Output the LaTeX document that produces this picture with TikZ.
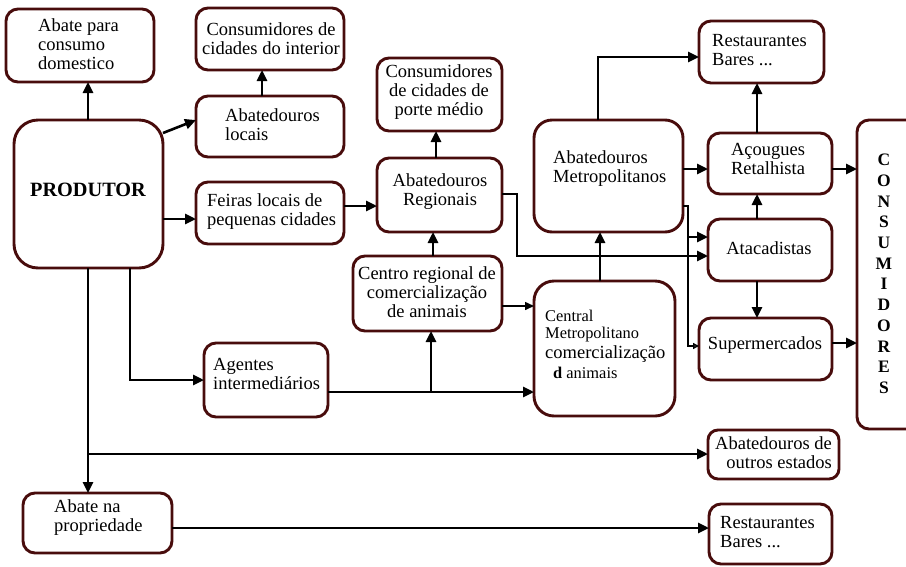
\documentclass[tikz,border=0pt]{standalone}
\usepackage{fontspec}
\setmainfont{Liberation Serif}
\usetikzlibrary{arrows.meta}
\definecolor{boxline}{RGB}{72,12,12}
% box from corner (x1,y1) to (x2,y2), given corner radius
\newcommand\flowbox[6]{%
  \node[box, rounded corners=#6, minimum width={(#4)-(#2)}, minimum height={(#5)-(#3)}]
    (#1) at ({((#2)+(#4))/2},{((#3)+(#5))/2}) {};}
\tikzset{
  box/.style={draw=boxline, line width=2.9pt, fill=white, inner sep=0pt, outer sep=0pt},
  arr/.style={line width=2.6pt, -{Triangle[length=11pt,width=10pt]}},
  thinline/.style={line width=1.5pt},
  dotline/.style={line width=2.8pt, dash pattern=on 0.6pt off 0.4pt},
  txt/.style={inner sep=0pt, font=\fontsize{18.5}{19}\selectfont},
  smalltxt/.style={inner sep=0pt, font=\fontsize{16.4}{19}\selectfont},
  vlet/.style={inner sep=0pt, font=\fontsize{17.5}{20}\selectfont\bfseries},
}
\begin{document}
\begin{tikzpicture}[x=1pt,y=-1pt]
\path[use as bounding box, fill=white] (0,0) rectangle (906,566);

% boxes
\flowbox{abcons}{6}{9}{154}{82}{12pt}
\flowbox{consint}{196}{8}{344}{70}{12pt}
\flowbox{ablocais}{196}{96}{344}{157}{12pt}
\flowbox{produtor}{14}{120}{163}{268}{24pt}
\flowbox{feiras}{196}{182}{344}{244}{12pt}
\flowbox{porte}{377}{58}{502}{131}{12pt}
\flowbox{regionais}{377}{158}{502}{232}{12pt}
\flowbox{centro}{353}{256}{502}{331}{12pt}
\flowbox{abmetro}{534}{120}{683}{232}{18pt}
\flowbox{central}{534}{281}{675}{416}{20pt}
\flowbox{restA}{699}{21}{824}{83}{12pt}
\flowbox{acougues}{708}{133}{832}{194}{12pt}
\flowbox{atac}{708}{219}{832}{281}{12pt}
\flowbox{super}{699}{318}{832}{380}{12pt}
\flowbox{consum}{857}{120}{940}{429}{12pt}
\flowbox{agentes}{204}{343}{328}{417}{12pt}
\flowbox{outros}{708}{430}{839}{479}{10pt}
\flowbox{abprop}{23}{493}{172}{553}{12pt}
\flowbox{restB}{709}{504}{832}{564}{12pt}

% connectors
\draw[arr] (88,0 |- produtor.north) -- (88,0 |- abcons.south);
\draw[arr] (produtor.east |- 0,133) -- (ablocais.west |- 0,120);
\draw[arr] (262,0 |- ablocais.north) -- (262,0 |- consint.south);
\draw[arr] (produtor.east |- 0,219) -- (feiras.west |- 0,219);
\draw[arr] (feiras.east |- 0,206) -- (regionais.west |- 0,206);
\draw[arr] (436,0 |- regionais.north) -- (436,0 |- porte.south);
\draw[arr] (433,0 |- centro.north) -- (433,0 |- regionais.south);
\draw[dotline] (regionais.east |- 0,194) -- (517,194) -- (517,256) -- (690,256);
\draw[arr] (690,256) -- (atac.west |- 0,256);
\draw[thinline, -{Triangle[length=9pt,width=8pt]}] (centro.east |- 0,306) -- (central.west |- 0,306);
\draw[arr] (600,0 |- central.north) -- (600,0 |- abmetro.south);
\draw[arr] (598,0 |- abmetro.north) |- (restA.west |- 0,57);
\draw[arr] (abmetro.east |- 0,169) -- (acougues.west |- 0,169);
\coordinate (split) at (688,237);
\draw[thinline, -{Triangle[open,length=6pt,width=6pt]}] (abmetro.east |- 0,206) -- (688,206) -- (688,346) -- (super.west |- 0,346);
\draw[arr] (split) -- (atac.west |- split);
\draw[arr] (757,0 |- atac.north) -- (757,0 |- acougues.south);
\draw[arr] (757,0 |- acougues.north) -- (757,0 |- restA.south);
\draw[arr] (757,0 |- atac.south) -- (757,0 |- super.north);
\draw[arr] (acougues.east |- 0,169) -- (consum.west |- 0,169);
\draw[arr] (super.east |- 0,343) -- (consum.west |- 0,343);
\draw[arr] (88,0 |- produtor.south) -- (88,0 |- abprop.north);
\draw[arr] (88,454) -- (outros.west |- 0,454);
\draw[arr] (130,0 |- produtor.south) |- (agentes.west |- 0,380);
\draw[arr] (agentes.east |- 0,392) -- (central.west |- 0,392);
\draw[arr] (431,392) -- (431,0 |- centro.south);
\draw[arr] (abprop.east |- 0,528) -- (restB.west |- 0,528);

% texts
\node[txt, anchor=west, align=left] (t-abcons) at (38,44.5) {Abate para\\consumo\\domestico};
\node[txt, align=center] (t-consint) at (271,38.5) {Consumidores de\\cidades do interior};
\node[txt, anchor=west, align=left] (t-ablocais) at (225,125) {Abatedouros\\locais};
\node[inner sep=0pt, font=\fontsize{20.3}{22}\selectfont\bfseries] (t-produtor) at (88,190) {PRODUTOR};
\node[txt, anchor=west, align=left] (t-feiras) at (207,212) {Feiras locais de\\pequenas cidades};
\node[txt, align=center] (t-porte) at (439,92) {Consumidores\\de cidades de\\porte médio};
\node[txt, align=center] (t-regionais) at (440,192) {Abatedouros\\Regionais};
\node[txt, align=center] (t-centro) at (427,292) {Centro regional de\\comercialização\\de animais};
\node[txt, anchor=west, align=left] (t-abmetro) at (553,169) {Abatedouros\\Metropolitanos};
\node[smalltxt, anchor=west] (t-central1) at (545,316) {Central};
\node[smalltxt, anchor=west] (t-central2) at (545,335) {Metropolitano};
\node[txt, anchor=west] (t-central3) at (545,354) {comercialização};
\node[smalltxt, anchor=west] (t-central4) at (553,373) {\textbf{d} animais};
\node[txt, anchor=west, align=left] (t-restA) at (712,50) {Restaurantes\\Bares ...};
\node[txt, align=center] (t-acougues) at (768,159) {Açougues\\Retalhista};
\node[txt] (t-atac) at (769,248) {Atacadistas};
\node[txt] (t-super) at (765,345) {Supermercados};
\node[txt, anchor=west, align=left] (t-agentes) at (213,374) {Agentes\\intermediários};
\node[txt, anchor=east, align=right] (t-outros) at (832,453) {Abatedouros de\\outros estados};
\node[txt, anchor=west, align=left] (t-abprop) at (54,518) {Abate na\\propriedade};
\node[txt, anchor=west, align=left] (t-restB) at (720,532) {Restaurantes\\Bares ...};
\foreach \l [count=\i from 0] in {C,O,N,S,U,M,I,D,O,R,E,S}
  \node[vlet] (v\i) at (884,{160+20.7*\i}) {\l};
\end{tikzpicture}
\end{document}
